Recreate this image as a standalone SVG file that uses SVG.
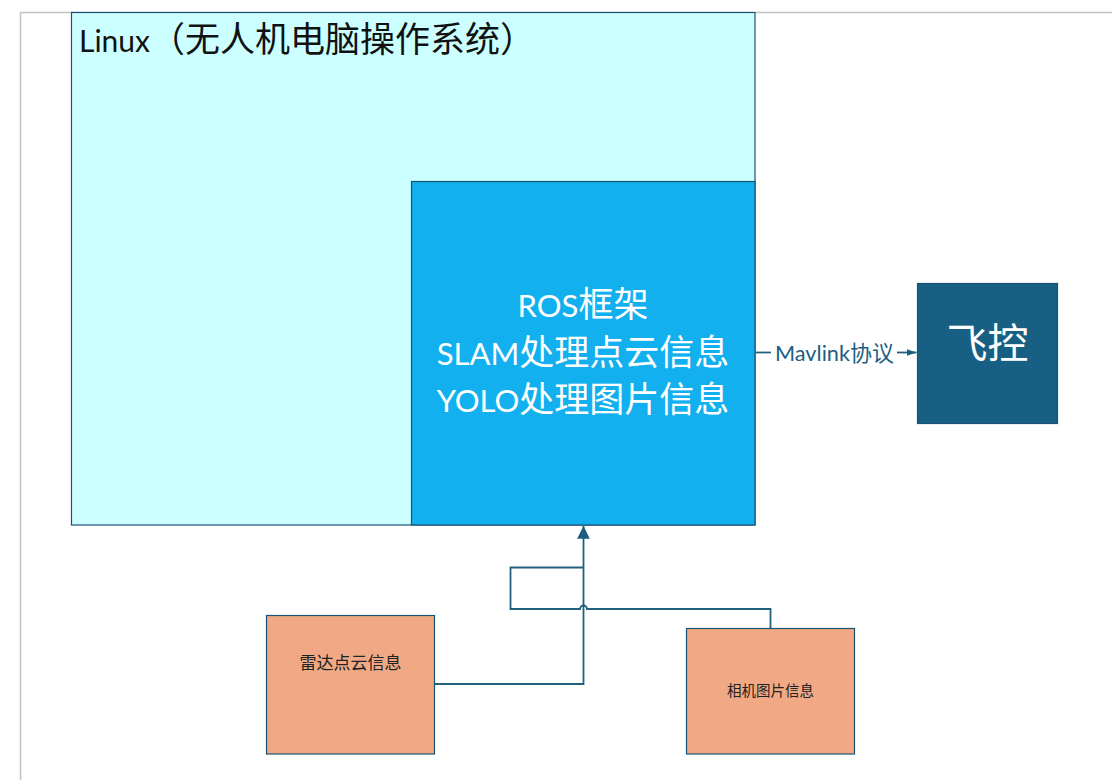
<svg xmlns="http://www.w3.org/2000/svg" width="1112" height="780" viewBox="0 0 1112 780">
<style>
.page{stroke:#c3c3c3;stroke-width:1.5;fill:none}
.box{stroke:#1a5274;stroke-width:1.2}
.lat{font-family:Lato,"Open Sans","Noto Sans","Noto Sans CJK SC",sans-serif}
.cjk{font-family:"Noto Sans CJK SC",sans-serif}
.conn{fill:none;stroke:#21607f;stroke-width:1.8}
</style>
<defs>
<marker id="arrUp" markerUnits="userSpaceOnUse" markerWidth="14" markerHeight="14" viewBox="0 0 12 12" refX="11" refY="6" orient="auto">
<path d="M0,0.5 L11,6 L0,11.5 Z" fill="#1b5e80"/>
</marker>
<marker id="arrSm" markerUnits="userSpaceOnUse" markerWidth="11" markerHeight="8" viewBox="0 0 11 8" refX="10" refY="4" orient="auto">
<path d="M0,0.5 L10,4 L0,7.5 Z" fill="#1b5e80"/>
</marker>
</defs>
<rect width="1112" height="780" fill="#ffffff"/>
<path class="page" d="M20.5,780 V12.5 H1112"/>

<g id="linux">
<rect class="box" x="71.5" y="12.5" width="683.5" height="512.5" fill="#ccffff"/>
<text y="52" fill="#111"><tspan class="lat" x="79" font-size="31" textLength="71" lengthAdjust="spacingAndGlyphs">Linux</tspan><tspan class="cjk" x="150" font-size="35">（无人机电脑操作系统）</tspan></text>
</g>

<g id="ros">
<rect class="box" x="411.5" y="181.5" width="343.5" height="343.5" fill="#12b0ee"/>
<text x="583" y="317" text-anchor="middle" fill="#ffffff"><tspan class="lat" font-size="31">ROS</tspan><tspan class="cjk" font-size="35">框架</tspan></text>
<text x="583" y="365" text-anchor="middle" fill="#ffffff"><tspan class="lat" font-size="31">SLAM</tspan><tspan class="cjk" font-size="35">处理点云信息</tspan></text>
<text x="583" y="412" text-anchor="middle" fill="#ffffff"><tspan class="lat" font-size="31">YOLO</tspan><tspan class="cjk" font-size="35">处理图片信息</tspan></text>
</g>

<g id="feikong">
<rect class="box" x="917.5" y="283.5" width="140" height="140" fill="#176084"/>
<text class="cjk" x="987.5" y="358" text-anchor="middle" font-size="41" fill="#ffffff">飞控</text>
</g>

<g id="leida">
<rect class="box" x="266.5" y="615.5" width="168" height="138.5" fill="#f0a984"/>
<text class="cjk" x="350.5" y="669" text-anchor="middle" font-size="17" fill="#222">雷达点云信息</text>
</g>

<g id="xiangji">
<rect class="box" x="686.5" y="628.5" width="168" height="125.5" fill="#f0a984"/>
<text class="cjk" x="770.5" y="696" text-anchor="middle" font-size="14.5" fill="#222">相机图片信息</text>
</g>

<g id="connectors">
<path class="conn" d="M435,684 H583.5 V526" marker-end="url(#arrUp)"/>
<path class="conn" d="M770.5,628 V609 H587 A3.5,3.5 0 0 0 580,609 H510.5 V567.5 H583.5"/>
<path class="conn" d="M755,352.5 H771"/>
<path class="conn" d="M897,352.5 H916.5" marker-end="url(#arrSm)"/>
<text x="775" y="361"><tspan class="lat" font-size="21" fill="#1b5e80" textLength="75" lengthAdjust="spacingAndGlyphs">Mavlink</tspan><tspan class="cjk" font-size="22" fill="#1b5e80">协议</tspan></text>
</g>
</svg>
